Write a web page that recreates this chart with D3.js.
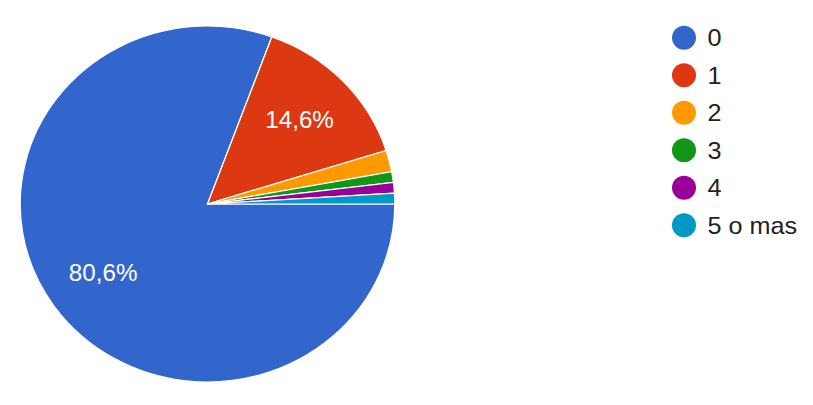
<!DOCTYPE html>
<html>
<head>
<meta charset="utf-8">
<script src="https://cdn.jsdelivr.net/npm/d3@7/dist/d3.min.js"></script>
<style>
  html, body { margin: 0; padding: 0; background: #fff; }
  svg { display: block; }
  text { font-family: "Liberation Sans", Arial, sans-serif; }
</style>
</head>
<body>
<svg id="chart" width="813" height="405"></svg>
<script>
// Data
const categories = ["0", "1", "2", "3", "4", "5 o mas"];
const counts = [83, 15, 2, 1, 1, 1];
const colors = ["#3366cc", "#dc3912", "#ff9900", "#109618", "#990099", "#0099c6"];

const svg = d3.select("#chart");
const total = d3.sum(counts);
const data = categories.map((c, i) => ({ cat: c, value: counts[i], color: colors[i] }));

const cx = 207.5, cy = 204, ry = 178, rx = 187.3;
const sx = rx / ry;

const pie = d3.pie().value(d => d.value).sort(null)
  .startAngle(Math.PI / 2).endAngle(Math.PI / 2 + 2 * Math.PI);
const arcs = pie(data);
const arc = d3.arc().innerRadius(0).outerRadius(ry);
const labelArc = d3.arc().innerRadius(ry * 0.68).outerRadius(ry * 0.68);

const g = svg.append("g").attr("transform", `translate(${cx},${cy}) scale(${sx},1)`);
g.selectAll("path.slice").data(arcs).enter().append("path")
  .attr("class", "slice")
  .attr("d", arc)
  .attr("fill", d => d.data.color)
  .attr("stroke", "#fff")
  .attr("stroke-width", 1.2);

const fmt = v => (v * 100).toFixed(1).replace(".", ",") + "%";
g.selectAll("text.lbl").data(arcs.filter(d => d.data.value / total > 0.05)).enter().append("text")
  .attr("class", "lbl")
  .attr("x", d => labelArc.centroid(d)[0])
  .attr("y", d => labelArc.centroid(d)[1] + 8)
  .attr("text-anchor", "middle")
  .attr("fill", "#fff")
  .attr("font-size", 23)
  .text(d => fmt(d.data.value / total));

// Legend
const ly = d3.scaleBand().domain(categories).range([18.9, 243.9]);
const leg = svg.append("g");
const items = leg.selectAll("g.item").data(data).enter().append("g")
  .attr("class", "item")
  .attr("transform", d => `translate(684,${ly(d.cat) + ly.bandwidth() / 2})`);
items.append("circle").attr("r", 12).attr("fill", d => d.color);
items.append("text")
  .attr("transform", "translate(23.5,8.5) scale(1.05,1)")
  .attr("font-size", 24)
  .attr("fill", "#222")
  .text(d => d.cat);
</script>
</body>
</html>
